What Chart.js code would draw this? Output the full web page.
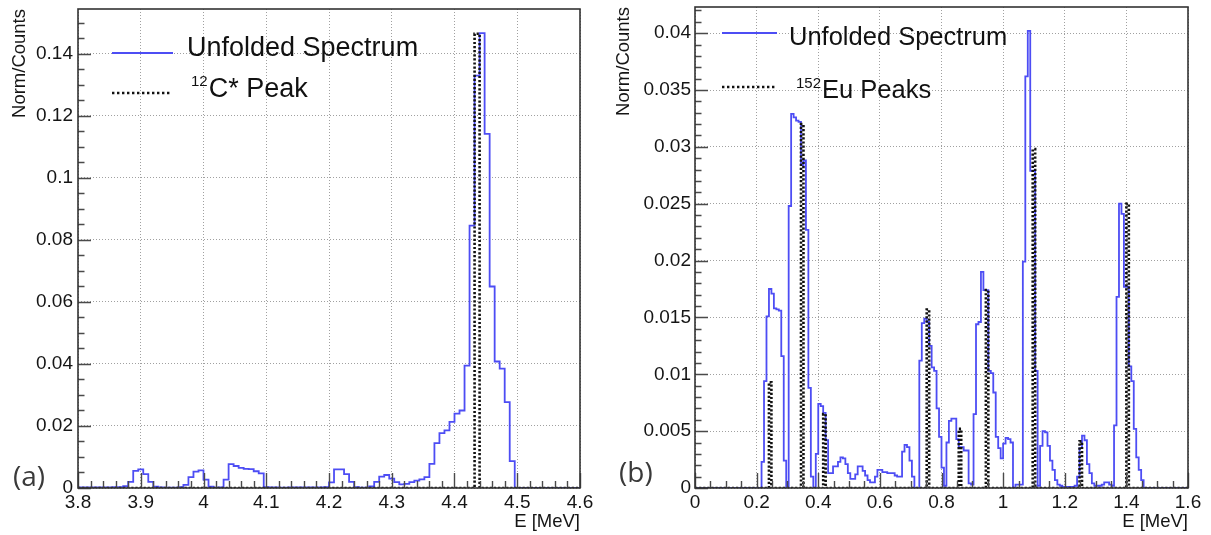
<!DOCTYPE html>
<html><head><meta charset="utf-8">
<script src="https://cdn.jsdelivr.net/npm/chart.js@4.4.0/dist/chart.umd.min.js"></script>
<style>
html,body{margin:0;padding:0;background:#fff;}
#wrap{position:relative;width:1211px;height:535px;overflow:hidden;}
.pane{position:absolute;top:0;height:535px;}
#pa{left:0;width:600px;}
#pb{left:600px;width:611px;}
</style></head><body>
<div id="wrap">
  <div class="pane" id="pa"><canvas id="ca" width="600" height="535"></canvas></div>
  <div class="pane" id="pb"><canvas id="cb" width="611" height="535"></canvas></div>
</div>
<script>
// ---------------- DATA ----------------
// (a) 12C* : histogram 3.8 - 4.6 MeV, bin width 0.008 MeV
const leftStart = 3.8;
const leftBinWidth = 0.008;
const leftUnfolded = [
  0.0002,0.0002,0.0002,0.0002,0.0002,0.0002,0.0002,0.0003,0.0003,0.0006,
  0.0020,0.0055,0.0060,0.0045,0.0020,0.0004,0.0002,0.0001,0.0001,0.0001,
  0.0003,0.0010,0.0035,0.0053,0.0057,0.0027,0.0004,0.0001,0.0002,0.0027,
  0.0077,0.0071,0.0065,0.0062,0.0061,0.0054,0.0047,0.0003,0.0002,0.0002,
  0.0001,0.0001,0.0002,0.0002,0.0002,0.0002,0.0002,0.0002,0.0002,0.0003,
  0.0018,0.0060,0.0060,0.0045,0.0020,0.0003,0.0001,0.0001,0.0005,0.0020,
  0.0037,0.0042,0.0030,0.0019,0.0012,0.0013,0.0019,0.0024,0.0028,0.0035,
  0.0078,0.0145,0.0177,0.0186,0.0213,0.0240,0.0250,0.0395,0.0846,0.1330,
  0.1467,0.1142,0.0650,0.0408,0.0385,0.0277,0.0087,0,0,0,
  0,0,0,0,0,0,0,0,0,0
];
const leftPeakBins = [4.432];
const leftPeakHeights = [0.1465];
const leftXTicks = [3.8,3.9,4.0,4.1,4.2,4.3,4.4,4.5,4.6];
const leftYTicks = [0,0.02,0.04,0.06,0.08,0.10,0.12,0.14];

// (b) 152Eu : histogram 0 - 1.6 MeV, bin width 0.008 MeV
const rightStart = 0;
const rightBinWidth = 0.008;
const rightUnfolded = [
  0,0,0,0,0,0,0,0,0,0,
  0,0,0,0,0,0,0,0,0,0,
  0,0,0,0,0,0,0,0.0023,0.0094,0.0151,
  0.0175,0.0171,0.0158,0.0157,0.0156,0.0116,0.0024,0,0.0248,0.0329,
  0.0326,0.0323,0.0322,0.0284,0.0288,0.0227,0.0088,0.0010,0,0.0030,
  0.0074,0.0072,0.0066,0.0042,0.0013,0.0013,0.0019,0.0019,0.0023,0.0027,
  0.0026,0.0021,0.0013,0.0008,0.0008,0.0012,0.0019,0.0019,0.0015,0.0011,
  0.0007,0.0005,0.0005,0.0010,0.0016,0.0016,0.0014,0.0014,0.0013,0.0013,
  0.0013,0.0011,0.0010,0.0010,0.0032,0.0038,0.0036,0.0024,0.0010,0,
  0,0.0112,0.0145,0.0149,0.0146,0.0125,0.0106,0.0103,0.0070,0.0045,
  0.0018,0.0002,0.0040,0.0059,0.0061,0.0061,0.0043,0.0036,0.0036,0.0033,
  0.0033,0.0004,0.0003,0.0065,0.0144,0.0146,0.0190,0.0174,0.0174,0.0103,
  0.0101,0.0084,0.0045,0.0035,0.0026,0.0039,0.0044,0.0043,0.0040,0,
  0.0003,0.0003,0.0003,0.0199,0.0362,0.0402,0.0279,0.0279,0.0103,0.0002,
  0.0037,0.0050,0.0049,0.0037,0.0024,0.0016,0.0007,0.0003,0.0002,0.0001,
  0.0001,0.0001,0.0001,0.0001,0.0002,0.0010,0.0035,0.0046,0.0042,0.0021,
  0.0013,0.0004,0.0002,0.0002,0.0002,0.0003,0.0005,0.0005,0.0003,0.0002,
  0.0055,0.0168,0.0250,0.0241,0.0177,0.0177,0.0107,0.0094,0.0052,0.0027,
  0.0016,0.0007,0,0,0,0,0,0,0,0,
  0,0,0,0,0,0,0,0,0,0
];
const rightPeakBins = [0.240,0.344,0.416,0.752,0.856,0.944,1.096,1.248,1.400];
const rightPeakHeights = [0.0093,0.0320,0.0065,0.0157,0.0052,0.0174,0.0298,0.0041,0.0250];
const rightXTicks = [0,0.2,0.4,0.6,0.8,1.0,1.2,1.4,1.6];
const rightYTicks = [0,0.005,0.010,0.015,0.020,0.025,0.030,0.035,0.040];

const seriesNames = ['Unfolded Spectrum', 'C* Peak', 'Eu Peaks'];

// ---------------- HELPERS ----------------
function r6(v){ return Math.round(v*1e6)/1e6; }
function histPoints(start, w, vals){
  const pts = [];
  for (let i = 0; i < vals.length; i++) pts.push({x: r6(start + i*w), y: vals[i]});
  pts.push({x: r6(start + vals.length*w), y: 0});
  return pts;
}
function peakPoints(xmin, xmax, w, bins, heights){
  const pts = [{x: xmin, y: 0}];
  bins.forEach((b, i) => { pts.push({x: b, y: heights[i]}); pts.push({x: r6(b + w), y: 0}); });
  pts.push({x: xmax, y: 0});
  return pts;
}
const fmt = v => String(+(+v).toFixed(4));
const FONT = "'Liberation Sans', Arial, Helvetica, sans-serif";
const BLUE = '#4d4df4';

// frame + ROOT-like inner ticks + legend + panel label
const decor = {
  id: 'decor',
  afterDraw(chart, args, o) {
    const ctx = chart.ctx, a = chart.chartArea;
    const xs = chart.scales.x, ys = chart.scales.y;
    ctx.save();
    ctx.strokeStyle = '#4a4a4a'; ctx.lineWidth = 1.4; ctx.setLineDash([]);
    ctx.beginPath();
    const nx = Math.round((o.xmax - o.xmin) / o.xMinor);
    for (let i = 0; i <= nx; i++) {
      const v = o.xmin + i * o.xMinor;
      const major = (i % o.xDiv) === 0;
      const px = Math.round(xs.getPixelForValue(v)) + 0.5;
      ctx.moveTo(px, a.bottom); ctx.lineTo(px, a.bottom - (major ? 15 : 7));
    }
    const ny = Math.floor((o.ymax + 1e-9) / o.yMinor);
    for (let i = 0; i <= ny; i++) {
      const v = i * o.yMinor;
      const major = (i % o.yDiv) === 0;
      const py = Math.round(ys.getPixelForValue(v)) + 0.5;
      ctx.moveTo(a.left, py); ctx.lineTo(a.left + (major ? 13 : 6.5), py);
    }
    ctx.stroke();
    ctx.strokeStyle = '#333'; ctx.lineWidth = 1.6;
    ctx.strokeRect(a.left, a.top, a.right - a.left, a.bottom - a.top);
    const L = o.legend;
    ctx.textBaseline = 'alphabetic'; ctx.textAlign = 'left'; ctx.fillStyle = '#111';
    ctx.strokeStyle = BLUE; ctx.lineWidth = 1.8;
    ctx.beginPath(); ctx.moveTo(L.x0, L.y1); ctx.lineTo(L.x1, L.y1); ctx.stroke();
    ctx.font = L.size + 'px ' + FONT;
    ctx.fillText(seriesNames[0], L.tx, L.b1);
    ctx.strokeStyle = '#111'; ctx.lineWidth = 2.4; ctx.setLineDash([2.4, 2.6]);
    ctx.beginPath(); ctx.moveTo(L.x0, L.y2); ctx.lineTo(L.x2, L.y2); ctx.stroke();
    ctx.setLineDash([]);
    ctx.font = L.supSize + 'px ' + FONT;
    ctx.fillText(L.sup, L.sx, L.b2 - L.supRaise);
    const sw = ctx.measureText(L.sup).width;
    ctx.font = L.size + 'px ' + FONT;
    ctx.fillText(L.text2, L.sx + sw + 1, L.b2);
    ctx.font = o.tag.size + "px 'Open Sans', " + FONT;
    ctx.fillStyle = '#3a3a3a';
    ctx.fillText(o.tag.text, o.tag.x, o.tag.y);
    ctx.restore();
  }
};

function makeChart(id, cfg) {
  const tickFont = {family: FONT, size: 19};
  return new Chart(document.getElementById(id), {
    type: 'line',
    data: {
      datasets: [
        {data: cfg.peak, borderColor: '#111', borderWidth: 2.6, borderDash: [2.2, 1.9],
         stepped: 'before', pointRadius: 0, fill: false, order: 0},
        {data: cfg.hist, borderColor: BLUE, borderWidth: 1.8,
         stepped: 'before', pointRadius: 0, fill: false, order: 1}
      ]
    },
    options: {
      responsive: false, animation: false, devicePixelRatio: 1,
      parsing: false, normalized: true,
      layout: {padding: cfg.pad},
      plugins: {legend: {display: false}, tooltip: {enabled: false}, decor: cfg.decor},
      scales: {
        x: {
          type: 'linear', min: cfg.xmin, max: cfg.xmax,
          afterBuildTicks: s => { s.ticks = cfg.xTicks.map(v => ({value: v})); },
          afterFit: s => { s.height = 47; s.paddingLeft = 0; s.paddingRight = 0; },
          ticks: {callback: fmt, font: tickFont, color: '#151515', padding: 3,
                  maxRotation: 0, autoSkip: false, includeBounds: false},
          grid: {color: '#a0a0a0', lineWidth: 1, drawTicks: false},
          border: {display: false, dash: [1, 2]},
          title: {display: true, text: 'E [MeV]', align: 'end', color: '#151515',
                  font: {family: FONT, size: 18.5}, padding: {top: 0, bottom: 2}}
        },
        y: {
          type: 'linear', min: 0, max: cfg.ymax,
          afterBuildTicks: s => { s.ticks = cfg.yTicks.map(v => ({value: v})); },
          afterFit: s => { s.width = cfg.yWidth; s.paddingTop = 0; s.paddingBottom = 0; },
          ticks: {callback: fmt, font: tickFont, color: '#151515', padding: cfg.yPad,
                  autoSkip: false, includeBounds: false},
          grid: {color: '#a0a0a0', lineWidth: 1, drawTicks: false},
          border: {display: false, dash: [1, 2]},
          title: {display: true, text: 'Norm/Counts', align: 'end', color: '#151515',
                  font: {family: FONT, size: 18.5}, padding: {top: cfg.yTitlePad, bottom: 0}}
        }
      }
    },
    plugins: [decor]
  });
}

makeChart('ca', {
  hist: histPoints(leftStart, leftBinWidth, leftUnfolded),
  peak: peakPoints(3.8, 4.6, leftBinWidth, leftPeakBins, leftPeakHeights),
  xmin: 3.8, xmax: 4.6, ymax: 0.1545,
  xTicks: leftXTicks, yTicks: leftYTicks,
  pad: {top: 9, right: 20, left: 0, bottom: 0},
  yWidth: 78, yPad: 5, yTitlePad: 9,
  decor: {
    xmin: 3.8, xmax: 4.6, xMinor: 0.02, xDiv: 5, ymax: 0.1545, yMinor: 0.005, yDiv: 4,
    legend: {x0: 112, x1: 173, x2: 172, y1: 53, y2: 93, tx: 187, b1: 56, size: 27,
             sup: '12', supSize: 15, supRaise: 11, sx: 191, b2: 97, text2: seriesNames[1]},
    tag: {text: '(a)', x: 13, y: 486, size: 28}
  }
});

makeChart('cb', {
  hist: histPoints(rightStart, rightBinWidth, rightUnfolded),
  peak: peakPoints(0, 1.6, rightBinWidth, rightPeakBins, rightPeakHeights),
  xmin: 0, xmax: 1.6, ymax: 0.0423,
  xTicks: rightXTicks, yTicks: rightYTicks,
  pad: {top: 7, right: 23, left: 0, bottom: 0},
  yWidth: 95, yPad: 4, yTitlePad: 13,
  decor: {
    xmin: 0, xmax: 1.6, xMinor: 0.05, xDiv: 4, ymax: 0.0423, yMinor: 0.001, yDiv: 5,
    legend: {x0: 122, x1: 177, x2: 176, y1: 33, y2: 87, tx: 189, b1: 45, size: 25.5,
             sup: '152', supSize: 15, supRaise: 10, sx: 196, b2: 98, text2: seriesNames[2]},
    tag: {text: '(b)', x: 19, y: 482, size: 28}
  }
});
</script>
</body></html>
